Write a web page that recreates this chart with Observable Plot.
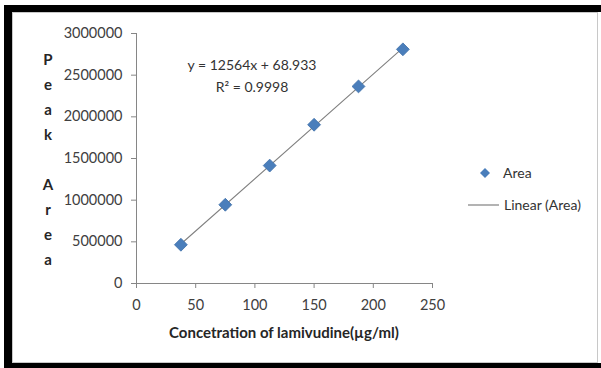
<!DOCTYPE html>
<html>
<head>
<meta charset="utf-8">
<script src="https://cdn.jsdelivr.net/npm/d3@7"></script>
<script src="https://cdn.jsdelivr.net/npm/@observablehq/plot@0.6"></script>
<style>
  html, body { margin: 0; padding: 0; background: #fff; }
  body { width: 601px; height: 368px; position: relative; overflow: hidden; font-family: Lato, "Open Sans", sans-serif; color: #404040; }
  .band { position: absolute; background: #000; }
  #inner { position: absolute; left: 12px; top: 12px; width: 586px; height: 351px; box-sizing: border-box; border: 1px solid #c8c8c8; background: #fff; }
  #chart { position: absolute; left: 0; top: 0; }
  #ytitle { position: absolute; left: 37px; top: 47px; width: 22px; text-align: center; font-weight: bold; font-size: 15px; line-height: 25px; color: #262626; }
  #ytitle span { display: block; height: 25px; }
  #xtitle { position: absolute; left: 134px; width: 300px; top: 323px; text-align: center; font-weight: bold; font-size: 15px; color: #262626; }
  #eq { position: absolute; left: 152px; width: 200px; top: 54px; text-align: center; font-size: 14px; line-height: 22px; color: #333; }
  .leg { position: absolute; font-size: 14px; color: #333; line-height: 18px; }
</style>
</head>
<body>
<div class="band" style="left:4px;top:5px;width:597px;height:7px"></div>
<div class="band" style="left:4px;top:5px;width:8px;height:363px"></div>
<div class="band" style="left:4px;top:363px;width:597px;height:5px"></div>
<div id="inner"></div>
<div id="chart"></div>
<div id="ytitle"></div>
<div id="xtitle"></div>
<div id="eq"></div>
<div id="legend"></div>
<script>
// ---- data ----
const concentration = [37.5, 75, 112.5, 150, 187.5, 225];
const peakArea = [465000, 945000, 1415000, 1905000, 2365000, 2810000];
const xTicks = [0, 50, 100, 150, 200, 250];
const yTicks = [0, 500000, 1000000, 1500000, 2000000, 2500000, 3000000];
const xTitle = "Concetration of lamivudine(µg/ml)";
const yTitle = "Peak Area";
const equationLines = ["y = 12564x + 68.933", "R² = 0.9998"];
const seriesName = "Area";
const trendName = "Linear (Area)";

const data = concentration.map((c, i) => ({conc: c, area: peakArea[i]}));

const axisColor = "#868686";
const pointColor = "#4a7ebb";

const chart = Plot.plot({
  width: 601,
  height: 368,
  marginLeft: 136,
  marginRight: 169,
  marginTop: 33,
  marginBottom: 85,
  style: {background: "transparent", fontFamily: "Lato, 'Open Sans', sans-serif", fontSize: "14.5px", color: "#404040", overflow: "visible"},
  x: {domain: [0, 250], label: null},
  y: {domain: [0, 3000000], label: null},
  marks: [
    Plot.axisX({ticks: xTicks, tickSize: 5, tickPadding: 11, stroke: axisColor, fill: "#404040", label: null, tickFormat: d3.format("d")}),
    Plot.axisY({ticks: yTicks, tickSize: 5, tickPadding: 9, stroke: axisColor, fill: "#404040", label: null, tickFormat: d3.format("d")}),
    Plot.ruleX([0], {stroke: axisColor}),
    Plot.ruleY([0], {stroke: axisColor}),
    Plot.linearRegressionY(data, {x: "conc", y: "area", stroke: "#808080", strokeWidth: 1.1, ci: 0}),
    Plot.dot(data, {x: "conc", y: "area", symbol: "diamond2", r: 5.8, fill: pointColor, stroke: "#3d6ea8", strokeWidth: 0.8})
  ]
});
document.getElementById("chart").appendChild(chart);

// y title as stacked letters
const yt = document.getElementById("ytitle");
for (const ch of yTitle) {
  const s = document.createElement("span");
  s.textContent = ch === " " ? "\u00a0" : ch;
  yt.appendChild(s);
}
document.getElementById("xtitle").textContent = xTitle;
document.getElementById("eq").innerHTML = equationLines.map(l => `<div>${l}</div>`).join("");

// legend
const lg = document.getElementById("legend");
lg.innerHTML = `
  <svg style="position:absolute;left:479px;top:167px" width="12" height="12"><path d="M6,1L11,6L6,11L1,6Z" fill="${pointColor}"/></svg>
  <div class="leg" style="left:503px;top:164px">${seriesName}</div>
  <svg style="position:absolute;left:467px;top:200px" width="33" height="10"><line x1="1" x2="32" y1="5" y2="5" stroke="#808080" stroke-width="1.2"/></svg>
  <div class="leg" style="left:504px;top:196px">${trendName}</div>`;
</script>
</body>
</html>
